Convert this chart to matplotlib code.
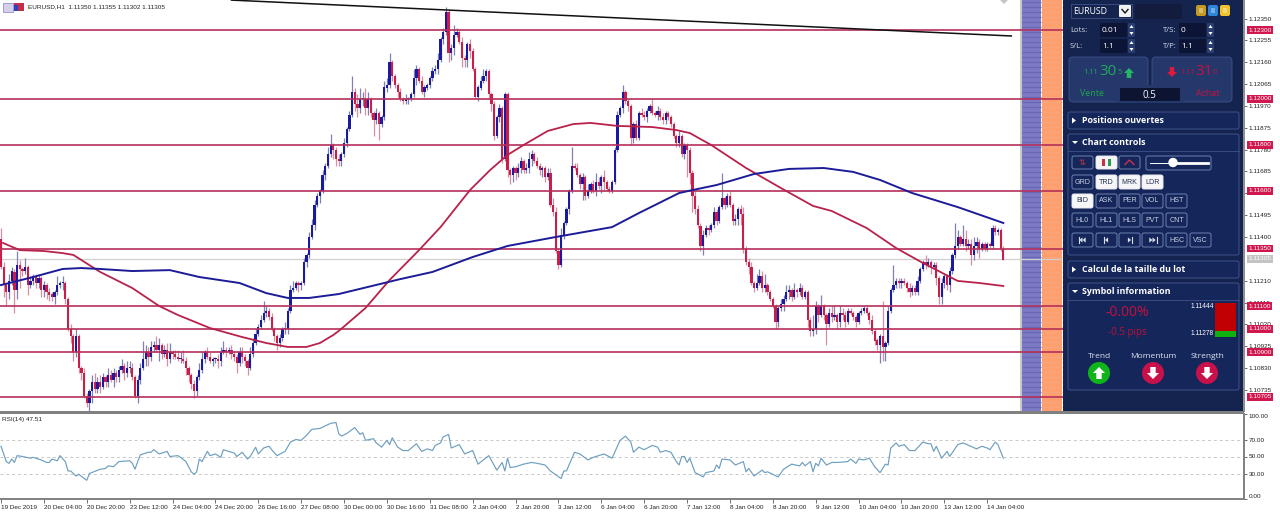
import matplotlib
matplotlib.use("Agg")
import matplotlib.pyplot as plt
from matplotlib.patches import Rectangle, FancyBboxPatch, Polygon, Circle
from matplotlib.collections import LineCollection

# ---------- data: prices in pips (1.1135 = 11135) ----------
open_first = 11139
closes = [
 11127,11119,11116,11121,11125,11117,11128,11126,11125,11127,11119,11121,11123,11120,11122,11117,
 11119,11116,11115,11114,11116,11119,11120,11120,11113,11100,11097,11090,11097,11083,11081,11071,
 11068,11073,11077,11074,11077,11075,11079,11077,11080,11078,11081,11079,11082,11084,11081,11083,
 11083,11079,11071,11078,11083,11087,11090,11088,11092,11093,11091,11093,11089,11091,11087,11090,
 11089,11088,11087,11087,11086,11083,11080,11076,11073,11079,11082,11087,11090,11088,11086,11087,
 11087,11086,11090,11091,11090,11091,11089,11088,11085,11090,11088,11086,11083,11089,11094,11098,
 11101,11104,11107,11108,11105,11100,11097,11094,11096,11100,11100,11108,11117,11118,11120,11119,
 11120,11129,11132,11140,11145,11154,11158,11160,11167,11171,11176,11180,11178,11174,11173,11176,
 11181,11187,11193,11203,11198,11196,11200,11200,11196,11200,11194,11191,11194,11189,11192,11205,
 11206,11216,11210,11206,11203,11200,11199,11200,11200,11202,11209,11213,11208,11203,11205,11206,
 11209,11212,11213,11217,11226,11229,11238,11220,11222,11228,11229,11225,11218,11217,11224,11221,
 11213,11201,11205,11208,11210,11212,11202,11198,11184,11192,11196,11174,11202,11169,11167,11170,
 11168,11170,11173,11169,11170,11174,11176,11173,11171,11169,11170,11166,11168,11154,11151,11134,
 11128,11141,11146,11152,11160,11171,11170,11167,11163,11166,11158,11160,11163,11160,11164,11162,
 11166,11164,11161,11160,11164,11178,11193,11196,11203,11199,11197,11183,11189,11183,11194,11193,
 11192,11195,11197,11194,11193,11195,11192,11191,11194,11192,11189,11184,11181,11184,11176,11180,
 11178,11168,11158,11152,11145,11136,11141,11144,11143,11145,11151,11147,11153,11157,11154,11158,
 11154,11147,11148,11152,11150,11135,11129,11127,11120,11118,11120,11123,11118,11119,11116,11113,
 11110,11103,11109,11111,11113,11116,11117,11114,11117,11116,11118,11114,11116,11104,11099,11100,
 11110,11106,11110,11106,11102,11107,11105,11106,11103,11107,11106,11103,11108,11107,11105,11103,
 11107,11108,11109,11107,11104,11099,11095,11093,11097,11092,11094,11108,11117,11119,11121,11120,
 11121,11120,11118,11116,11118,11116,11121,11126,11129,11128,11129,11127,11128,11122,11114,11120,
 11123,11119,11125,11132,11136,11140,11137,11139,11136,11137,11132,11136,11138,11135,11137,11135,
 11137,11136,11144,11142,11143,11135,11130]
upper_wick = [
 5,2,1,3,2,1,6,2,1,4,1,2,1,1,2,1, 2,1,2,1,1,4,1,3,1,1,2,1,3,1,1,2,
 1,1,3,4,2,3,2,1,3,2,2,1,2,3,1,3, 3,2,1,2,2,8,3,2,3,2,4,3,1,2,3,4,
 1,2,3,3,4,2,1,1,2,1,3,3,1,2,2,1, 1,2,2,4,1,1,2,1,1,2,2,1,1,3,2,2,
 1,2,5,2,1,2,1,1,2,1,3,1,2,3,1,1, 1,2,1,2,3,2,1,1,2,1,3,5,1,1,2,1,
 2,1,2,7,2,4,5,3,5,3,1,1,2,1,1,3, 3,4,1,1,1,2,1,2,1,1,4,2,1,2,1,1,
 1,2,2,3,1,2,2,1,2,4,2,1,2,1,1,2, 1,1,1,2,3,1,1,1,1,1,2,1,1,1,1,1,
 1,2,2,1,2,3,2,1,2,1,1,1,2,2,3,2, 1,3,1,1,1,8,1,2,1,2,1,3,1,2,4,2,
 1,3,1,1,1,1,2,1,3,1,1,1,1,2,1,2, 2,1,1,3,1,2,1,2,1,1,1,1,1,2,1,1,
 1,1,1,2,2,1,2,1,1,1,2,1,1,11,1,1, 2,1,2,1,2,3,1,2,2,1,4,3,2,5,1,1,
 1,1,1,2,2,3,2,1,3,1,2,1,1,1,1,6, 2,1,5,1,1,2,3,4,1,3,2,2,1,1,1,1,
 1,1,1,1,1,2,1,1,1,15,1,2,1,9,1,1, 1,1,1,2,1,1,2,1,1,3,2,1,1,1,1,2,
 1,1,2,1,10,3,1,6,4,2,2,4,2,1,1,1,1,1,1,1,1,1,1]
lower_wick = [
 1,5,6,3,2,10,4,8,2,1,4,1,2,2,2,3, 3,3,3,2,3,1,1,3,2,1,3,4,2,2,3,1,
 2,4,5,2,2,3,1,2,2,1,3,2,2,1,3,2, 2,1,1,3,2,1,3,4,2,2,1,5,2,1,3,2,
 2,1,1,2,1,3,3,2,3,2,1,1,2,1,1,2, 2,3,2,1,2,1,2,2,4,1,3,2,3,1,1,1,
 1,1,1,2,1,1,2,3,2,1,2,2,1,1,1,3, 2,1,2,1,1,2,1,3,1,2,1,1,4,3,2,2,
 1,2,1,1,3,4,2,3,3,3,2,7,2,7,1,1, 2,1,2,1,2,1,1,1,2,1,1,3,1,1,2,1,
 1,1,1,2,1,2,1,4,3,3,1,1,4,3,3,3, 1,1,2,1,1,2,2,3,2,1,2,2,1,3,4,3,
 3,2,2,1,1,2,3,1,1,2,3,2,1,1,2,1, 2,1,2,1,2,1,1,1,2,7,2,1,1,1,2,1,
 3,4,1,1,1,1,1,1,2,1,2,3,2,1,1,1, 1,2,1,1,1,2,1,2,2,1,1,1,2,2,1,2,
 12,5,7,2,1,2,4,1,2,1,1,2,1,1,2,1, 1,2,2,3,5,2,1,3,1,2,1,1,2,2,1,1,
 1,3,2,1,3,1,3,2,1,2,1,1,1,3,2,2, 2,3,1,2,9,1,2,1,3,2,2,2,1,1,1,2,
 1,1,1,1,2,1,2,2,8,6,6,1,1,1,1,2, 2,1,2,2,1,1,1,1,1,2,1,3,1,3,3,3,
 2,2,3,1,1,1,1,1,2,1,4,2,3,4,1,1,1,1,1,1,1,1,0]

ma_red_bars = [0.75,7,16,23,27,37,49,59,66,78,90,99,107,114,119,124,126.5,136,145,156,164,175,182.5,189,195,204,213.5,220,230,243,252,257,265,278,291,303,310,323,334,344,357,365,374]
ma_red = [11137.4,11134.3,11133.9,11133,11132.2,11124.8,11117.8,11110,11106.1,11100.4,11096.5,11093.9,11092.2,11092.2,11093.9,11097.4,11099.6,11109.1,11121.3,11134.3,11144.3,11160.4,11169.1,11175.7,11180,11186.1,11189.1,11189.6,11188.3,11187.8,11186.5,11185.2,11180,11170,11161.3,11153.5,11151.3,11143.9,11135.2,11128.7,11120.9,11120,11118.7]
ma_blue_bars = [0,12,23,30,37,49,63,74,89,99,107,115,126,149,161,176,189,207,228,238,253,258,267,281,294,307,318,328,340,357,374]
ma_blue = [11119.1,11122.6,11126.1,11126.5,11126.1,11125.2,11125.6,11122.6,11120,11115.6,11113.5,11113.5,11115.2,11121.7,11124.8,11131.3,11136.1,11140,11144.3,11150.4,11159.1,11160.4,11162.6,11167.4,11169.6,11170,11168.3,11164.8,11159.1,11153,11146.1]

level_prices = [1.12300,1.12000,1.11800,1.11600,1.11350,1.11100,1.11000,1.10900,1.10705]
level_labels = ["1.12300","1.12000","1.11800","1.11600","1.11350","1.11100","1.11000","1.10900","1.10705"]
price_ticks = [1.12350,1.12255,1.12160,1.12065,1.11970,1.11875,1.11780,1.11685,1.11590,1.11495,1.11400,1.11210,1.11115,1.11020,1.10925,1.10830,1.10735]
trend_bars = [86,377]
trend_prices = [1.12430,1.12274]
last_price = 1.11305

rsi_bars = [0,2,3,4,5,6,8,11,12,15,17,18,19,21,22,24,25,26,28,29,32,33,37,39,40,42,44,48,49,50,51,52,55,56,57,59,62,63,66,67,69,71,72,73,74,75,77,78,80,82,83,85,87,88,90,92,93,95,96,98,100,101,103,106,108,110,112,114,116,119,123,125,126,
 127,129,132,133,134,135,136,139,140,142,144,145,146,148,150,152,155,157,159,161,162,164,165,167,168,171,173,176,178,182,185,187,188,189,190,192,195,198,200,203,205,209,210,211,214,216,219,221,225,228,231,233,235,236,238,240,243,245,246,248,250,252,253,254,
 255,256,257,259,262,263,266,267,268,269,272,274,277,278,279,281,284,285,286,290,292,295,298,299,300,302,303,304,305,306,308,310,312,316,317,319,320,322,324,326,328,330,331,332,334,335,337,339,341,344,346,347,348,349,351,353,354,357,359,364,366,368,369,371,372,374]
rsi_vals = [62,44,42,47,43,51,50,48,49,46,43,43,47,45,51,44,33,33,27,29,22,30,35,36,39,38,44,45,42,35,44,52,55,55,58,53,56,50,51,49,44,32,29,32,47,44,56,51,53,49,58,56,54,50,55,47,50,61,53,60,62,58,51,56,67,70,69,75,82,83,89,90,77,
 74,77,84,80,76,78,69,71,66,61,69,64,72,61,57,57,65,56,59,57,63,66,73,76,60,64,53,57,41,51,34,43,33,48,37,38,41,43,42,40,33,24,33,33,55,53,46,49,53,48,69,74,67,55,61,58,63,61,55,57,55,44,40,50,
 50,43,48,31,26,31,33,40,36,47,46,40,44,32,36,27,34,31,32,26,35,41,39,43,39,44,32,42,39,48,40,43,43,44,47,42,47,46,48,38,31,41,40,60,66,62,64,57,57,67,65,65,56,62,48,56,50,64,66,59,62,60,58,67,64,48]

time_ticks = list(range(0,369,16))
time_labels = ["19 Dec 2019","20 Dec 04:00","20 Dec 20:00","23 Dec 12:00","24 Dec 04:00","24 Dec 20:00","26 Dec 16:00","27 Dec 08:00",
 "30 Dec 00:00","30 Dec 16:00","31 Dec 08:00","2 Jan 04:00","2 Jan 20:00","3 Jan 12:00","6 Jan 04:00","6 Jan 20:00",
 "7 Jan 12:00","8 Jan 04:00","8 Jan 20:00","9 Jan 12:00","10 Jan 04:00","10 Jan 20:00","13 Jan 12:00","14 Jan 04:00"]

# ---------- colours ----------
NAVY="#14244f"; SEC="#15265a"; EDGE="#3f5389"; BLUE="#1a1aa0"; RED="#c81e48"; LEVEL="#b5305a"
TXT="Liberation Sans"; UIF="Open Sans"

W,H=1280,512
fig=plt.figure(figsize=(W/100,H/100),dpi=100,facecolor="white")

def pos(x0,y0,x1,y1): return [x0/W,1-y1/H,(x1-x0)/W,(y1-y0)/H]

# background stripes
bg=fig.add_axes([0,0,1,1],zorder=0); bg.set_xlim(0,W); bg.set_ylim(H,0); bg.axis("off")
bg.add_patch(Rectangle((1020,0),1.5,411,fc="#c8c8c8",ec="none"))
bg.add_patch(Rectangle((1021.5,0),19,411,fc="#7c7ac4",ec="none"))
bg.add_patch(Rectangle((1041.5,0),20,411,fc="#ff9f6e",ec="none"))
for yy in range(2,411,5):
    bg.plot([1021.5,1040.5],[yy,yy],color="#6a68b4",lw=0.9,solid_capstyle="butt")
    bg.plot([1041.5,1061.5],[yy,yy],color="#f8a67c",lw=0.9,solid_capstyle="butt")

# main chart
ax=fig.add_axes(pos(0,0,1244,411),zorder=1); ax.patch.set_alpha(0)
x0_bar=-1/2.68; x1_bar=(1244-1)/2.68
ax.set_xlim(x0_bar,x1_bar)
ax.set_ylim(1.123-381/23000,1.123+30/23000)
opens=[open_first]+closes[:-1]
idx=list(range(len(closes)))
segs_up=[];segs_dn=[]
for i,o,c,u,l in zip(idx,opens,closes,upper_wick,lower_wick):
    hi=max(o,c)+u; lo=min(o,c)-l
    (segs_up if c>=o else segs_dn).append([(i,lo/1e4),(i,hi/1e4)])
ax.add_collection(LineCollection(segs_up,colors="#7f82b0",linewidths=0.9,zorder=2))
ax.add_collection(LineCollection(segs_dn,colors="#d88ea2",linewidths=0.9,zorder=2))
for i,o,c in zip(idx,opens,closes):
    ax.bar(i,abs(c-o)/1e4 or 0.00004,bottom=min(o,c)/1e4,width=0.85,color=BLUE if c>=o else RED,linewidth=0,zorder=3)
ax.axhline(last_price,color="#d0d0d0",lw=0.9,zorder=1)
for p in level_prices:
    ax.axhline(p,color=LEVEL,lw=1.3,alpha=0.92,zorder=4)
ax.plot(ma_red_bars,[v/1e4 for v in ma_red],color="#b8224a",lw=1.3,zorder=5,solid_joinstyle="round")
ax.plot(ma_blue_bars,[v/1e4 for v in ma_blue],color="#1c1c98",lw=1.4,zorder=5,solid_joinstyle="round")
ax.plot(trend_bars,trend_prices,color="#111111",lw=1.1,zorder=5)
ax.set_xticks([])
ax.yaxis.tick_right()
ax.set_yticks(price_ticks)
ax.set_yticklabels([f"{p:.5f}" for p in price_ticks],fontsize=4.6,family=TXT,color="#222222")
ax.tick_params(axis="y",length=2.5,width=0.6,color="#555555",pad=1)
for s in ("top","left","bottom"): ax.spines[s].set_visible(False)
ax.spines["right"].set_color("#808080"); ax.spines["right"].set_linewidth(1.4)
tr=ax.get_yaxis_transform()
for p,l in zip(level_prices,level_labels):
    ax.text(1+4.5/1244,p,l,transform=tr,fontsize=4.6,family=TXT,color="white",va="center",ha="left",zorder=8,
            bbox=dict(fc="#d0184e",ec="none",pad=1.0),clip_on=False)
ax.text(1+4.5/1244,last_price,"1.11305",transform=tr,fontsize=4.6,family=TXT,color="white",va="center",ha="left",zorder=8,
        bbox=dict(fc="#c4c4c4",ec="none",pad=1.0),clip_on=False)

# RSI panel
rx=fig.add_axes(pos(0,414,1244,499),zorder=1)
rx.set_xlim(x0_bar,x1_bar); rx.set_ylim(0,100)
for lv in (70,50,30):
    rx.axhline(lv,color="#c8c8c8",lw=0.7,ls=(0,(3,3)))
rx.plot(rsi_bars,rsi_vals,color="#6d9fbe",lw=0.85)
rx.yaxis.tick_right()
rx.set_yticks([100,70,50,30,0])
rx.set_yticklabels(["100.00","70.00","50.00","30.00","0.00"],fontsize=4.6,family=TXT,color="#222222")
rx.get_yticklabels()[0].set_va("top"); rx.get_yticklabels()[4].set_va("bottom")
rx.tick_params(axis="y",length=2.5,width=0.6,color="#555555",pad=1)
rx.set_xticks(time_ticks)
rx.set_xticklabels(time_labels,fontsize=4.6,family=TXT,color="#222222",ha="left")
rx.tick_params(axis="x",length=3,width=0.6,color="#555555",pad=1.5)
for s in ("top","left"): rx.spines[s].set_visible(False)
for s in ("right","bottom"):
    rx.spines[s].set_color("#808080"); rx.spines[s].set_linewidth(1.4)
rx.text(2/1244,1-6/85,"RSI(14) 47.51",transform=rx.transAxes,fontsize=4.6,family=TXT,color="#222222",va="center")

# UI overlay
ui=fig.add_axes([0,0,1,1],zorder=3); ui.set_xlim(0,W); ui.set_ylim(H,0); ui.axis("off")
ui.patch.set_alpha(0)
def R(x0,y0,x1,y1,fc,ec="none",lw=0.7,r=0,z=2):
    if r:
        ui.add_patch(FancyBboxPatch((x0,y0),x1-x0,y1-y0,boxstyle=f"round,pad=0,rounding_size={r}",fc=fc,ec=ec,lw=lw,zorder=z))
    else:
        ui.add_patch(Rectangle((x0,y0),x1-x0,y1-y0,fc=fc,ec=ec,lw=lw,zorder=z))
def T(x,y,s,size=5.6,color="white",weight="normal",ha="left",fam=UIF):
    ui.text(x,y,s,fontsize=size,color=color,fontweight=weight,ha=ha,va="center",family=fam,zorder=6)
def P(pts,fc,z=5): ui.add_patch(Polygon(pts,closed=True,fc=fc,ec="none",zorder=z))
def arrow(cx,cy,s,up,fc):
    d=-1 if up else 1
    P([(cx-s,cy),(cx,cy+d*s),(cx+s,cy),(cx+0.45*s,cy),(cx+0.45*s,cy-d*s),(cx-0.45*s,cy-d*s),(cx-0.45*s,cy)],fc)

R(0,411,1244,414,"#808080")
R(1063,0,1243,411,NAVY,z=1.5)
R(1243,0,1244.5,411,"#909090",z=1.5)
# legend line
R(2.5,2.5,12.5,11.5,"#d6d0ea",ec="#8080c0",lw=0.5,z=3)
R(14,3,24,11,"#c03048",z=3); R(14,5,18,11,"#3040c0",z=3.1)
ui.text(28,7,"EURUSD,H1  1.11350 1.11355 1.11302 1.11305",fontsize=4.6,family=TXT,color="#222222",va="center",zorder=6)
P([(1000,0),(1008,0),(1004,4)],"#c4c4c4",z=2)
# symbol row
R(1071,4,1132,18,NAVY,ec=EDGE,lw=0.6)
T(1073,11.5,"EURUSD",6.3,"white")
R(1119,5,1131,17,"#f2f2f2",r=1); ui.plot([1122,1125,1128],[9.5,13,9.5],color="#111122",lw=1,zorder=6)
R(1135,4,1182,19,"#141c3e",r=1.5)
for x,c in ((1196,"#c49a22"),(1208,"#2f86d8"),(1220,"#efc22e")):
    R(x,5,x+10,16,c,r=2); R(x+3,8,x+7,13,"#ffffff55",z=3)
# order inputs
for lab,lx,bx,val,yy in (("Lots:",1070,1100,"0.01",30),("T/S:",1163,1179,"0",30),("S/L:",1070,1100,"1.1",46),("T/P:",1163,1179,"1.1",46)):
    T(lx,yy,lab,5.6,"#d8dcea")
    R(bx,yy-7,bx+27,yy+7,"#0d1536",r=1)
    T(bx+2,yy,val,6,"white")
    R(bx+28,yy-7,bx+35,yy+7,"#2a3d70",r=1)
    P([(bx+29.5,yy-2),(bx+33.5,yy-2),(bx+31.5,yy-5)],"white")
    P([(bx+29.5,yy+2),(bx+33.5,yy+2),(bx+31.5,yy+5)],"white")
# sell/buy
R(1069,57,1148,102,"#25386c",ec=EDGE,lw=0.6,r=4)
R(1152,57,1232,102,"#25386c",ec=EDGE,lw=0.6,r=4)
G="#22a85a"; C="#c8103e"
T(1083,73,"1.11",5.4,G); T(1099.5,71.5,"30",11,G); T(1117.5,73,"5",5.4,G)
arrow(1129,73,5,True,"#25b565")
arrow(1172,72,5,False,"#e0183a")
T(1180,73,"1.11",5.4,C); T(1195.5,71.5,"31",11,C); T(1213,73,"0",5.4,C)
T(1092,94,"Vente",6.4,"#1fa64a",ha="center"); T(1208,94,"Achat",6.4,C,ha="center")
R(1117,85,1184,103,"#25386c",z=2.1,r=3); R(1120,88,1180,101,"#0c1432",z=2.2,r=1)
T(1149,95,"0.5",7,"white",ha="center")
# section headers
def header(y0,y1,title,open_,hdr=None):
    R(1068,y0,1239,y1,SEC,ec=EDGE,lw=0.7,r=2)
    cy=(y0+(hdr if hdr else y1))/2
    if open_:
        P([(1072,cy-1.5),(1078,cy-1.5),(1075,cy+1.5)],"white")
    else:
        P([(1072,cy-3),(1072,cy+3),(1076,cy)],"white")
    T(1082,cy,title,6.4,"white","bold")
    if hdr: ui.plot([1068,1239],[hdr,hdr],color=EDGE,lw=0.6,zorder=3)
header(112,129,"Positions ouvertes",False)
header(134,255,"Chart controls",True,151)
header(261,278,"Calcul de la taille du lot",False)
header(283,390,"Symbol information",True,300)
# buttons
def btn(x0,x1,y0,y1,s="",white=False):
    R(x0,y0,x1,y1,"#f6f6f8" if white else SEC,ec="#e8e8f0" if white else "#6f82b0",lw=0.7,r=2,z=3)
    if s: T((x0+x1)/2,(y0+y1)/2,s,5.1,"#24324f" if white else "#c8d0e4",ha="center",fam=TXT)
btn(1072,1093,156,169); btn(1096,1117,156,169,white=True); btn(1119,1140,156,169)
T(1082.5,162.5,"⇅",6,"#c8304a",ha="center",fam="DejaVu Sans")
R(1102,159,1105,166,"#c8304a",z=5); R(1108,159,1111,166,"#2a9a50",z=5)
ui.plot([1125,1129.5,1134],[164.5,160,164.5],color="#d03050",lw=1,zorder=6)
R(1146,156,1211,170,SEC,ec="#6f82b0",lw=0.7,r=2,z=3)
ui.plot([1150,1171],[163,163],color="white",lw=0.7,zorder=5); ui.plot([1173,1208],[163,163],color="white",lw=2,zorder=5)
ui.add_patch(Circle((1173,162.5),4.7,fc="white",ec="none",zorder=6))
xs=[(1072,1093),(1096,1117),(1119,1140),(1142,1163),(1166,1187),(1190,1211)]
for (a,b),s,w in zip(xs,["GRD","TRD","MRK","LDR"],[0,1,1,1]): btn(a,b,175,189,s,bool(w))
for (a,b),s,w in zip(xs,["BID","ASK","PER","VOL","HST"],[1,0,0,0,0]): btn(a,b,194,208,s,bool(w))
for (a,b),s in zip(xs,["HL0","HL1","HLS","PVT","CNT"]): btn(a,b,213,227,s)
for (a,b),s in zip(xs,["","","","","HSC","VSC"]): btn(a,b,233,247,s)
for (a,b),k in zip(xs[:4],((-1,2),(-1,1),(1,1),(1,2))):
    cx=(a+b)/2; cy=240; d,n=k
    for j in range(n):
        ox=cx+(j-(n-1)/2)*3.2
        P([(ox-d*1.6,cy-2.6),(ox-d*1.6,cy+2.6),(ox+d*1.6,cy)],"#d8dde8")
    bar_x=cx+d*(n*1.6+0.8)
    ui.plot([bar_x,bar_x],[cy-2.6,cy+2.6],color="#d8dde8",lw=0.8,zorder=5)
# symbol info
T(1127,313,"-0.00%",10,"#c8103e",ha="center")
T(1127,332,"-0.5 pips",7,"#b81238",ha="center")
T(1202,307,"1.11444",4.8,"white",ha="center",fam=TXT)
T(1202,333.5,"1.11278",4.8,"white",ha="center",fam=TXT)
R(1215,303,1236,331,"#c00000",z=3); R(1215,331,1236,337,"#10b010",z=3)
for cx,s,c,up in ((1099,"Trend","#0fb31a",True),(1153,"Momentum","#c8104a",False),(1207,"Strength","#c8104a",False)):
    T(cx,356,s,6,"#dfe3f0",ha="center")
    ui.add_patch(Circle((cx,373),11,fc=c,ec="none",zorder=4))
    arrow(cx,373,6,up,"white")

fig.savefig("out.png",dpi=100,facecolor="white")
